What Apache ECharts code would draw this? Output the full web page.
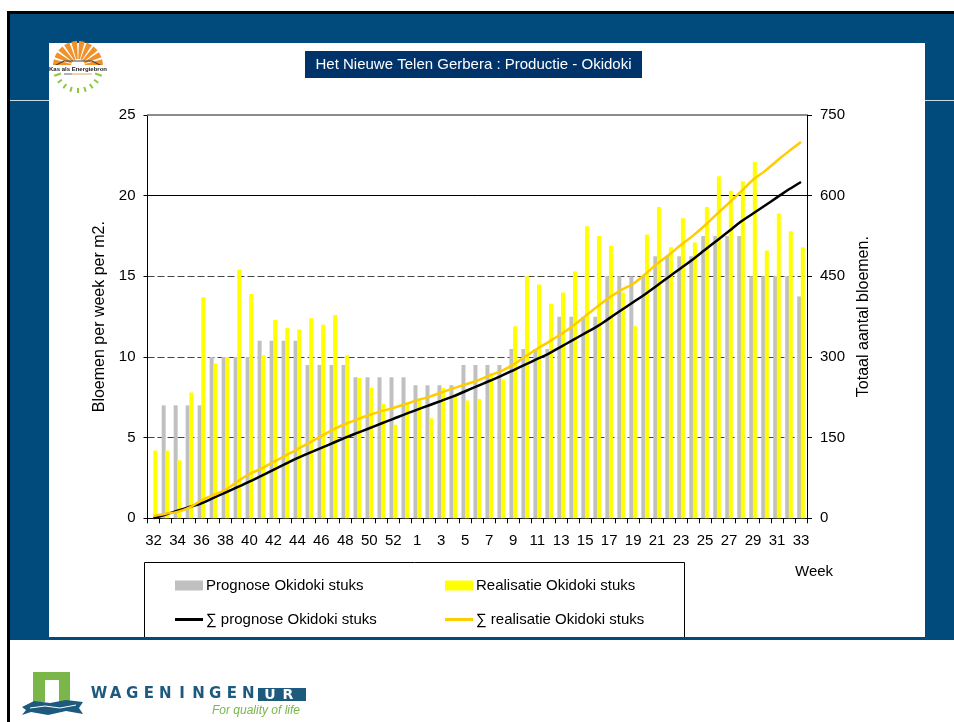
<!DOCTYPE html>
<html>
<head>
<meta charset="utf-8">
<title>Het Nieuwe Telen Gerbera : Productie - Okidoki</title>
<script src="https://cdn.jsdelivr.net/npm/echarts/dist/echarts.min.js"></script>
<style>
  html, body { margin: 0; padding: 0; background: #fff; }
  #chart { width: 954px; height: 722px; }
</style>
</head>
<body>
<div id="chart"></div>
<script>
// weken: 32..53 van het eerste jaar, daarna 1..33
const weeks = ['32','33','34','35','36','37','38','39','40','41','42','43','44','45','46','47','48','49','50','51','52','53',
    '1','2','3','4','5','6','7','8','9','10','11','12','13','14','15','16','17','18','19','20','21','22','23','24','25','26','27','28','29','30','31','32','33'];

// bloemen per week per m2
const prognose = [0,7,7,7,7,10,10,10,10,11,11,11,11,9.5,9.5,9.5,9.5,8.75,8.75,8.75,8.75,8.75,
    8.25,8.25,8.25,8.25,9.5,9.5,9.5,9.5,10.5,10.5,10.5,10.5,12.5,12.5,12.5,12.5,15,15,15,15,
    16.25,16.25,16.25,16.25,17.5,17.5,17.5,17.5,15,15,15,15,13.75];
const realisatie = [4.2,4.2,3.6,7.8,13.7,9.6,10,15.4,13.9,10.1,12.3,11.8,11.7,12.4,12,12.6,10.1,8.7,8.1,7.1,5.8,7.2,
    7.4,6.2,8.1,7.6,7.3,7.4,9,8.6,11.9,15,14.5,13.3,14,15.3,18.1,17.5,16.9,14,11.9,17.6,19.3,16.8,18.6,17.1,
    19.3,21.2,20.3,20.9,22.1,16.6,18.9,17.8,16.8];

// totaal aantal bloemen (rechter as)
const cumPrognose = [0,7,14,21,28,38,48,58,68,79,90,101,112,121.5,131,140.5,150,158.8,167.5,176.3,185,193.8,
    202,210.3,218.5,226.8,236.3,245.8,255.3,264.8,275.3,285.8,296.3,306.8,319.3,331.8,344.3,356.8,371.8,386.8,
    401.8,416.8,433,449.3,465.5,481.8,499.3,516.8,534.3,551.8,566.8,581.8,596.8,611.8,625.5];
const cumRealisatie = [4.2,8.4,12,19.8,33.5,43.1,53.1,68.5,82.4,92.5,104.8,116.6,128.3,140.7,152.7,165.3,175.4,184.1,
    192.2,199.3,205.1,212.3,219.7,225.9,234,241.6,248.9,256.3,265.3,273.9,285.8,300.8,315.3,328.6,342.6,357.9,
    376,393.5,410.4,424.4,436.3,453.9,473.2,490,508.6,525.7,545,566.2,586.5,607.4,629.5,646.1,665,682.8,699.6];

const leftTicks = [0, 25, 5];    // min, max, interval
const rightTicks = [0, 750, 150];

const FONT = 'Arial, "Liberation Sans", sans-serif';
const BLUE = '#004b7b';
const WUR_BLUE = '#1d5a7e';
const WUR_GREEN = '#7ab648';

function frameGraphics() {
    const g = [];
    // achtergrond van de dia
    g.push({ type: 'rect', z: -10, shape: { x: 7, y: 11, width: 947, height: 3 }, style: { fill: '#000' } });
    g.push({ type: 'rect', z: -10, shape: { x: 7, y: 11, width: 3, height: 711 }, style: { fill: '#000' } });
    g.push({ type: 'rect', z: -10, shape: { x: 10, y: 14, width: 944, height: 626 }, style: { fill: BLUE } });
    g.push({ type: 'rect', z: -9, shape: { x: 49, y: 43, width: 876, height: 594 }, style: { fill: '#fff' } });
    g.push({ type: 'line', z: -9, shape: { x1: 10, y1: 100.5, x2: 49, y2: 100.5 }, style: { stroke: '#c9d9e8', lineWidth: 1 } });
    g.push({ type: 'line', z: -9, shape: { x1: 925, y1: 100.5, x2: 954, y2: 100.5 }, style: { stroke: '#c9d9e8', lineWidth: 1 } });

    // titel
    g.push({ type: 'rect', z: 5, shape: { x: 305, y: 51, width: 337, height: 27 }, style: { fill: '#00336a' } });
    g.push({ type: 'text', z: 6, x: 473.5, y: 65, style: {
        text: 'Het Nieuwe Telen Gerbera : Productie - Okidoki', fill: '#fff',
        font: '15px ' + FONT, align: 'center', verticalAlign: 'middle' } });

    // logo Kas als Energiebron
    const cx = 78, cy = 66;
    for (let i = 0; i < 10; i++) {
        const a0 = Math.PI + i * Math.PI / 10 + 0.04;
        const a1 = Math.PI + (i + 1) * Math.PI / 10 - 0.04;
        g.push({ type: 'sector', z: 5, shape: { cx, cy, r0: 7, r: 25, startAngle: a0, endAngle: a1 },
            style: { fill: '#f0922b' } });
    }
    g.push({ type: 'polyline', z: 6, shape: { points: [[52, 67], [64, 61], [92, 61], [104, 67]] },
        style: { stroke: '#444', lineWidth: 1.2, fill: null } });
    g.push({ type: 'rect', z: 6, shape: { x: 52, y: 65, width: 52, height: 9 }, style: { fill: '#fff' } });
    g.push({ type: 'text', z: 7, x: 78, y: 69.5, style: { text: 'Kas als Energiebron', fill: '#222',
        font: 'bold 6px ' + FONT, align: 'center', verticalAlign: 'middle' } });
    g.push({ type: 'line', z: 7, shape: { x1: 64, y1: 74, x2: 72, y2: 74 }, style: { stroke: '#666', lineWidth: 1 } });
    g.push({ type: 'line', z: 7, shape: { x1: 72, y1: 74, x2: 92, y2: 74 }, style: { stroke: '#e8a860', lineWidth: 1 } });
    for (let i = 0; i < 9; i++) {
        const a = Math.PI * (0.1 + i * 0.1);
        const r0 = i === 0 || i === 8 ? 18 : 20, r1 = 25;
        g.push({ type: 'line', z: 6, shape: {
            x1: cx + r0 * Math.cos(a), y1: cy + 2 + r0 * Math.sin(a),
            x2: cx + r1 * Math.cos(a), y2: cy + 2 + r1 * Math.sin(a) },
            style: { stroke: '#8dc63f', lineWidth: 2 } });
    }

    // logo Wageningen UR
    g.push({ type: 'rect', z: 5, shape: { x: 33, y: 672, width: 37, height: 30 }, style: { fill: WUR_GREEN } });
    g.push({ type: 'rect', z: 6, shape: { x: 45, y: 680, width: 14, height: 22 }, style: { fill: '#fff' } });
    g.push({ type: 'polygon', z: 7, shape: { points: [[22, 707], [34, 701], [50, 703], [66, 700], [83, 702],
        [79, 708], [83, 714], [66, 711], [48, 715], [31, 712], [22, 715], [26, 710]] },
        style: { fill: WUR_BLUE } });
    g.push({ type: 'polyline', z: 8, shape: { points: [[30, 708], [45, 706], [60, 708], [76, 705]] },
        style: { stroke: '#fff', lineWidth: 1, fill: null } });
    'WAGENINGEN'.split('').forEach((ch, i) => {
        g.push({ type: 'text', z: 6, x: 99 + i * 16.6, y: 694, style: { text: ch, fill: WUR_BLUE,
            font: 'bold 15px "DejaVu Sans", sans-serif', align: 'center', verticalAlign: 'middle' } });
    });
    g.push({ type: 'rect', z: 6, shape: { x: 258, y: 688, width: 48, height: 13 }, style: { fill: WUR_BLUE } });
    g.push({ type: 'text', z: 7, x: 270, y: 695, style: { text: 'U', fill: '#fff',
        font: 'bold 14px "DejaVu Sans", sans-serif', align: 'center', verticalAlign: 'middle' } });
    g.push({ type: 'text', z: 7, x: 288, y: 695, style: { text: 'R', fill: '#fff',
        font: 'bold 14px "DejaVu Sans", sans-serif', align: 'center', verticalAlign: 'middle' } });
    g.push({ type: 'text', z: 6, x: 212, y: 711, style: { text: 'For quality of life', fill: WUR_GREEN,
        font: 'italic 12px ' + FONT, align: 'left', verticalAlign: 'middle' } });

    // legenda kader en as-label
    g.push({ type: 'rect', z: 1, shape: { x: 144.5, y: 562.5, width: 540, height: 80 },
        style: { fill: null, stroke: '#000', lineWidth: 1 } });
    // blauwe rand onder het paneel ligt over het kader
    g.push({ type: 'rect', z: 2, shape: { x: 10, y: 637, width: 944, height: 3 }, style: { fill: BLUE } });
    g.push({ type: 'rect', z: 2, shape: { x: 10, y: 640, width: 944, height: 10 }, style: { fill: '#fff' } });
    g.push({ type: 'text', z: 3, x: 795, y: 572, style: { text: 'Week', fill: '#000',
        font: '15px ' + FONT, align: 'left', verticalAlign: 'middle' } });
    return g;
}

function legendAt(name, left, top, iconHeight) {
    return {
        data: [name], left: left, top: top, orient: 'horizontal',
        icon: 'rect', itemWidth: 28, itemHeight: iconHeight, itemGap: 0, padding: 0,
        selectedMode: false,
        textStyle: { fontSize: 15, fontFamily: FONT, color: '#000', padding: [0, 0, 0, -2] }
    };
}

const chart = echarts.init(document.getElementById('chart'), null, { renderer: 'canvas' });

chart.setOption({
    animation: false,
    backgroundColor: '#fff',
    textStyle: { fontFamily: FONT },
    graphic: { elements: frameGraphics() },
    grid: { left: 147.5, right: 147, top: 115, bottom: 203.7, containLabel: false },
    legend: [
        legendAt('Prognose Okidoki stuks', 175, 578, 10),
        legendAt('Realisatie Okidoki stuks', 445, 578, 10),
        legendAt('∑ prognose Okidoki stuks', 175, 612, 3),
        legendAt('∑ realisatie Okidoki stuks', 445, 612, 3)
    ],
    xAxis: {
        type: 'category',
        data: weeks,
        boundaryGap: true,
        axisLine: { lineStyle: { color: '#000', width: 1 } },
        axisTick: { show: true, interval: 0, length: 5, lineStyle: { color: '#000' } },
        axisLabel: { interval: 1, margin: 15, fontSize: 15, color: '#000', fontFamily: FONT },
        splitLine: { show: false }
    },
    yAxis: [
        {
            type: 'value', position: 'left',
            min: leftTicks[0], max: leftTicks[1], interval: leftTicks[2],
            name: 'Bloemen per week per m2.', nameLocation: 'middle', nameGap: 37,
            nameTextStyle: { fontSize: 16, color: '#000', fontFamily: FONT },
            axisLine: { show: true, lineStyle: { color: '#000' } },
            axisTick: { show: true, length: 4, lineStyle: { color: '#000' } },
            axisLabel: { margin: 12, fontSize: 15, color: '#000', fontFamily: FONT },
            splitLine: { show: true, lineStyle: { color: ['#444', '#444', '#444', '#444', '#000', '#8c8c8c'], type: [7, 3], width: 1 } }
        },
        {
            type: 'value', position: 'right',
            min: rightTicks[0], max: rightTicks[1], interval: rightTicks[2],
            name: 'Totaal aantal bloemen.', nameLocation: 'middle', nameGap: 47,
            nameTextStyle: { fontSize: 16, color: '#000', fontFamily: FONT },
            axisLine: { show: true, lineStyle: { color: '#000' } },
            axisTick: { show: true, length: 5, lineStyle: { color: '#000' } },
            axisLabel: { margin: 13, fontSize: 15, color: '#000', fontFamily: FONT },
            splitLine: { show: false }
        }
    ],
    series: [
        {
            name: 'Prognose Okidoki stuks',
            type: 'bar',
            data: prognose,
            yAxisIndex: 0,
            barWidth: 4,
            barGap: '-10%',
            itemStyle: { color: '#c0c0c0' },
            markLine: {
                silent: true, symbol: 'none', z: 1,
                label: { show: false },
                data: [
                    { yAxis: 20, lineStyle: { color: '#000', type: 'solid', width: 1 } },
                    { yAxis: 25, lineStyle: { color: '#8c8c8c', type: 'solid', width: 2 } }
                ]
            }
        },
        {
            name: 'Realisatie Okidoki stuks',
            type: 'bar',
            data: realisatie,
            yAxisIndex: 0,
            barWidth: 4,
            itemStyle: { color: '#ffff00' }
        },
        {
            name: '∑ prognose Okidoki stuks',
            type: 'line',
            data: cumPrognose,
            yAxisIndex: 1,
            smooth: 0.35,
            symbol: 'none',
            lineStyle: { color: '#000', width: 2.5 },
            itemStyle: { color: '#000' },
            z: 3
        },
        {
            name: '∑ realisatie Okidoki stuks',
            type: 'line',
            data: cumRealisatie,
            yAxisIndex: 1,
            smooth: 0.35,
            symbol: 'none',
            lineStyle: { color: '#ffcc00', width: 2.5 },
            itemStyle: { color: '#ffcc00' },
            z: 4
        }
    ]
});
</script>
</body>
</html>
